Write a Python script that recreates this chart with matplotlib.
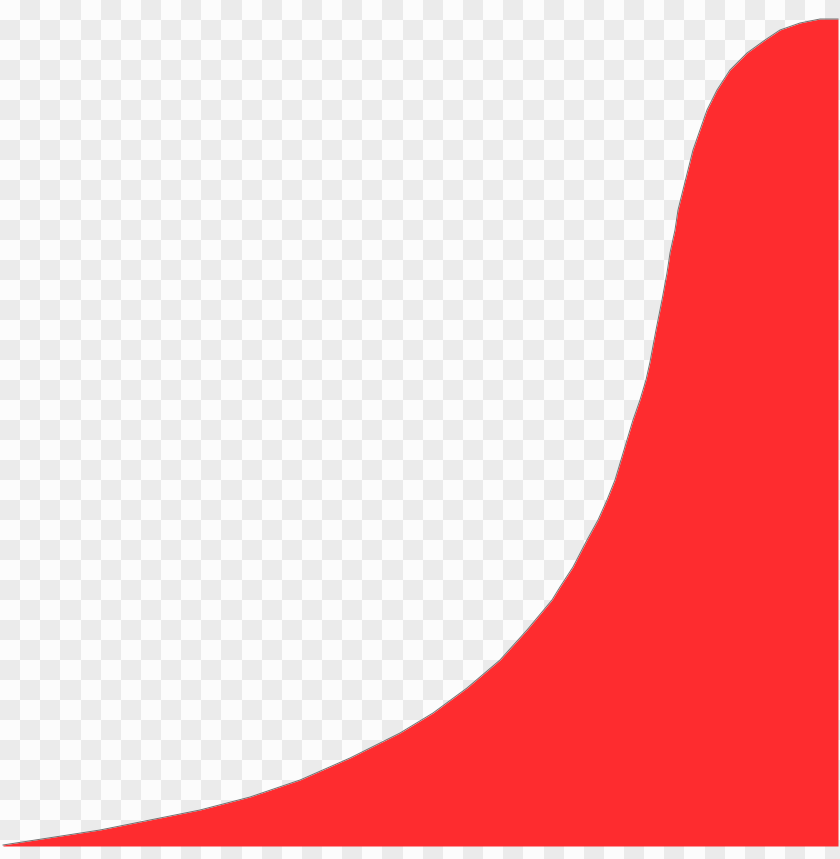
import numpy as np
import matplotlib
matplotlib.use("Agg")
import matplotlib.pyplot as plt

# curve of the red area (pixel coords, y down)
edge_x = [3, 100, 200, 250, 300, 350, 400, 433, 467, 500, 527, 552, 560, 573,
          587, 598, 607, 615, 621, 627, 633, 640, 646, 650, 656, 662, 667, 670,
          675, 678, 683, 688, 693, 700, 707, 717, 730, 747, 765, 780, 800, 820, 838]
edge_y = [845, 830, 810, 797, 780, 758, 733, 713, 688, 660, 630, 600, 587, 567,
          540, 520, 500, 480, 460, 440, 420, 400, 380, 362, 330, 300, 273, 253,
          230, 210, 190, 170, 150, 130, 110, 90, 70, 53, 40, 30, 23, 19, 19]
base_y = 846

W, H = 840, 859
cell_w, cell_h = 20.13, 20.0

fig = plt.figure(figsize=(W / 100, H / 100), dpi=100)
ax = fig.add_axes([0, 0, 1, 1])
ax.set_xlim(0, W)
ax.set_ylim(H, 0)
ax.axis("off")

# checkerboard background
xe = np.arange(0, W + cell_w, cell_w)
ye = np.arange(0, H + cell_h, cell_h)
ci, ri = np.meshgrid(np.arange(len(xe) - 1), np.arange(len(ye) - 1))
board = (ci + ri) % 2
ax.pcolormesh(xe, ye, board, cmap=matplotlib.colors.ListedColormap(["#fcfcfc", "#ebebeb"]),
              shading="flat", zorder=0)

ax.fill_between(edge_x, edge_y, base_y, color="#fe2c2f", lw=0, zorder=2)
ax.plot(edge_x, edge_y, color="#707070", lw=0.7, zorder=3, solid_joinstyle="round")

fig.savefig("out.png", dpi=100)
